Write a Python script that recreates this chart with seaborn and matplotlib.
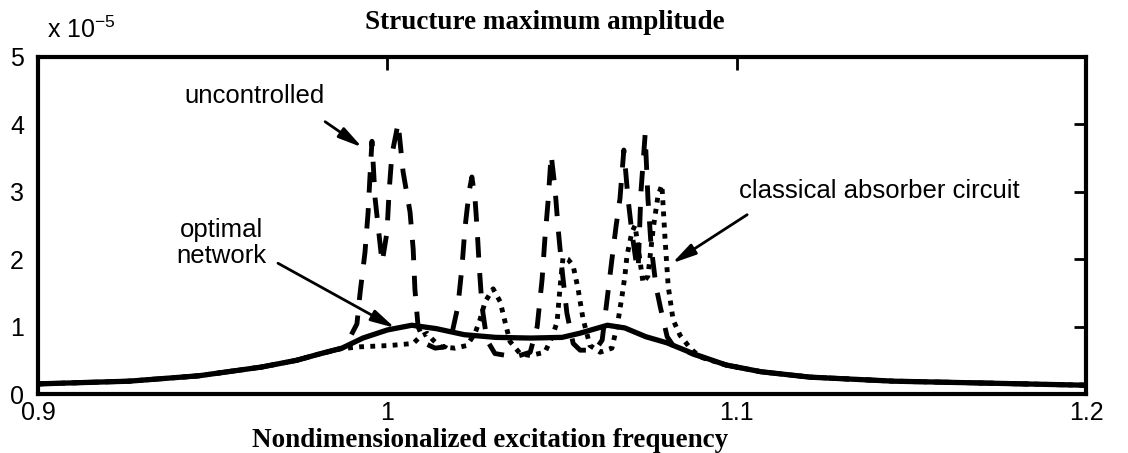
import matplotlib
matplotlib.use("Agg")
import matplotlib.pyplot as plt
import seaborn as sns

# valores en unidades de 1e-5
freq_opt = [0.900, 0.926, 0.946, 0.964, 0.974, 0.981, 0.987, 0.993, 1.000, 1.007,
            1.014, 1.022, 1.031, 1.041, 1.050, 1.055, 1.063, 1.068, 1.074, 1.080,
            1.088, 1.097, 1.107, 1.121, 1.145, 1.173, 1.200]
amp_opt = [0.15, 0.19, 0.27, 0.40, 0.50, 0.60, 0.68, 0.83, 0.95, 1.02,
           0.97, 0.88, 0.84, 0.83, 0.84, 0.90, 1.02, 0.98, 0.85, 0.76,
           0.59, 0.43, 0.33, 0.25, 0.19, 0.16, 0.13]

freq_unc = [0.900, 0.926, 0.946, 0.964, 0.974, 0.981, 0.987, 0.9887, 0.9913, 0.9922,
            0.9936, 0.9945, 0.9950, 0.9956, 0.9965, 0.9985, 0.9999, 1.0005, 1.0013, 1.0031,
            1.0045, 1.0065, 1.0074, 1.0079, 1.0088, 1.0108, 1.0137, 1.0165, 1.0185, 1.0202,
            1.0214, 1.0222, 1.0234, 1.0242, 1.0251, 1.0257, 1.0263, 1.0271, 1.0285, 1.0308,
            1.0366, 1.0409, 1.0429, 1.0443, 1.0451, 1.0460, 1.0469, 1.0480, 1.0489, 1.0500,
            1.0514, 1.0532, 1.0552, 1.0595, 1.0615, 1.0629, 1.0643, 1.0655, 1.0666, 1.0677,
            1.0689, 1.0700, 1.0711, 1.0718, 1.0726, 1.0738, 1.0746, 1.0755, 1.0769, 1.0781,
            1.0801, 1.0818, 1.0838, 1.0875, 1.097, 1.107, 1.121, 1.145, 1.173, 1.200]
amp_unc = [0.15, 0.19, 0.27, 0.40, 0.50, 0.60, 0.68, 0.78, 1.04, 1.50,
           2.10, 2.70, 3.20, 3.75, 2.90, 1.95, 2.40, 3.00, 3.55, 4.02,
           3.30, 2.70, 2.15, 1.55, 1.00, 0.75, 0.68, 0.70, 0.90, 1.30,
           1.90, 2.45, 3.00, 3.22, 2.90, 2.45, 1.90, 1.30, 0.80, 0.60,
           0.55, 0.62, 1.00, 1.70, 2.30, 2.85, 3.55, 3.05, 2.45, 1.85,
           1.20, 0.75, 0.65, 0.65, 0.80, 1.40, 2.00, 2.50, 2.90, 3.62,
           2.90, 2.40, 2.00, 1.85, 3.00, 3.85, 2.90, 2.20, 1.60, 1.30,
           0.85, 0.72, 0.68, 0.59, 0.43, 0.33, 0.25, 0.19, 0.16, 0.13]

freq_cls = [0.900, 0.926, 0.946, 0.964, 0.974, 0.981, 0.9865, 0.9922, 1.0008, 1.0074,
            1.0094, 1.0114, 1.0131, 1.0151, 1.0194, 1.0228, 1.0251, 1.0265, 1.0280, 1.0303,
            1.0323, 1.0337, 1.0351, 1.0380, 1.0409, 1.0451, 1.0472, 1.0486, 1.0494, 1.0503,
            1.0517, 1.0532, 1.0546, 1.0560, 1.0580, 1.0609, 1.0643, 1.0660, 1.0672, 1.0680,
            1.0686, 1.0700, 1.0709, 1.0720, 1.0732, 1.0746, 1.0761, 1.0775, 1.0786, 1.0795,
            1.0804, 1.0818, 1.0838, 1.0867, 1.0895, 1.097, 1.107, 1.121, 1.145, 1.173, 1.200]
amp_cls = [0.15, 0.19, 0.27, 0.40, 0.50, 0.60, 0.67, 0.70, 0.72, 0.75,
           0.85, 0.90, 0.80, 0.70, 0.68, 0.72, 0.90, 1.10, 1.37, 1.56,
           1.37, 1.07, 0.78, 0.60, 0.57, 0.62, 0.85, 1.07, 1.56, 2.03,
           2.00, 1.90, 1.56, 1.12, 0.72, 0.62, 0.68, 1.07, 1.46, 1.75,
           2.05, 2.40, 2.50, 2.10, 1.65, 1.75, 2.45, 2.95, 3.10, 2.30,
           1.60, 1.10, 0.87, 0.68, 0.55, 0.43, 0.33, 0.25, 0.19, 0.16, 0.13]

x_ticks = [0.9, 1, 1.1, 1.2]
x_tick_labels = ["0.9", "1", "1.1", "1.2"]
y_ticks = [0, 1, 2, 3, 4, 5]

sns.set_style("white")
plt.rcParams["font.family"] = ["Liberation Sans", "DejaVu Sans"]
plt.rcParams["mathtext.fontset"] = "custom"
plt.rcParams["mathtext.rm"] = "Liberation Sans"
plt.rcParams["axes.unicode_minus"] = False
plt.rcParams["text.color"] = "black"

fig = plt.figure(figsize=(11.28, 4.53), dpi=100)
ax = fig.add_axes([38 / 1128, 1 - 394 / 453, 1048 / 1128, 337 / 453])

sns.lineplot(x=freq_unc, y=amp_unc, ax=ax, color="black", lw=3.5, sort=False,
             estimator=None, linestyle=(0, (4.2, 3.2)))
sns.lineplot(x=freq_cls, y=amp_cls, ax=ax, color="black", lw=3.5, sort=False,
             estimator=None, linestyle=(0, (1, 1.3)))
sns.lineplot(x=freq_opt, y=amp_opt, ax=ax, color="black", lw=3.8, sort=False,
             estimator=None)

ax.set_xlim(0.9, 1.2)
ax.set_ylim(0, 5)
ax.set_xticks(x_ticks)
ax.set_xticklabels(x_tick_labels)
ax.set_yticks(y_ticks)
ax.tick_params(direction="in", length=9, width=2, labelsize=18, top=True, right=True,
               color="black", labelcolor="black")
ax.tick_params(axis="x", pad=5)
ax.tick_params(axis="y", pad=10)
for sp in ax.spines.values():
    sp.set_linewidth(3)
    sp.set_color("black")

serif = ["Liberation Serif", "DejaVu Serif"]
ax.set_title("Structure maximum amplitude", family=serif, fontweight="bold",
             fontsize=19.5, x=0.484, pad=20, color="black")
ax.set_xlabel("Nondimensionalized excitation frequency", family=serif,
              fontweight="bold", fontsize=19.5, color="black")
ax.xaxis.set_label_coords(0.431, -0.10)
ax.set_ylabel("")

ax.text(0.009, 1.056, r"x 10$^{\mathregular{-5}}$", transform=ax.transAxes,
        fontsize=18, va="baseline", ha="left", color="black")

arrow = dict(arrowstyle="-|>,head_length=0.9,head_width=0.22", color="black",
             lw=2, mutation_scale=16, shrinkA=0, shrinkB=0)

ax.text(0.9621, 4.42, "uncontrolled", fontsize=18.5, ha="center", va="center",
        color="black")
ax.annotate("", xy=(0.9928, 3.66), xytext=(0.9822, 4.04), arrowprops=arrow)

ax.text(0.9524, 2.24, "optimal\nnetwork", fontsize=18.5, ha="center", va="center",
        linespacing=1.15, color="black")
ax.annotate("", xy=(1.0022, 0.98), xytext=(0.9687, 1.94), arrowprops=arrow)

ax.text(1.1408, 3.01, "classical absorber circuit", fontsize=18.5, ha="center",
        va="center", color="black")
ax.annotate("", xy=(1.0815, 1.94), xytext=(1.1030, 2.66), arrowprops=arrow)

fig.savefig("out.png", dpi=100)
